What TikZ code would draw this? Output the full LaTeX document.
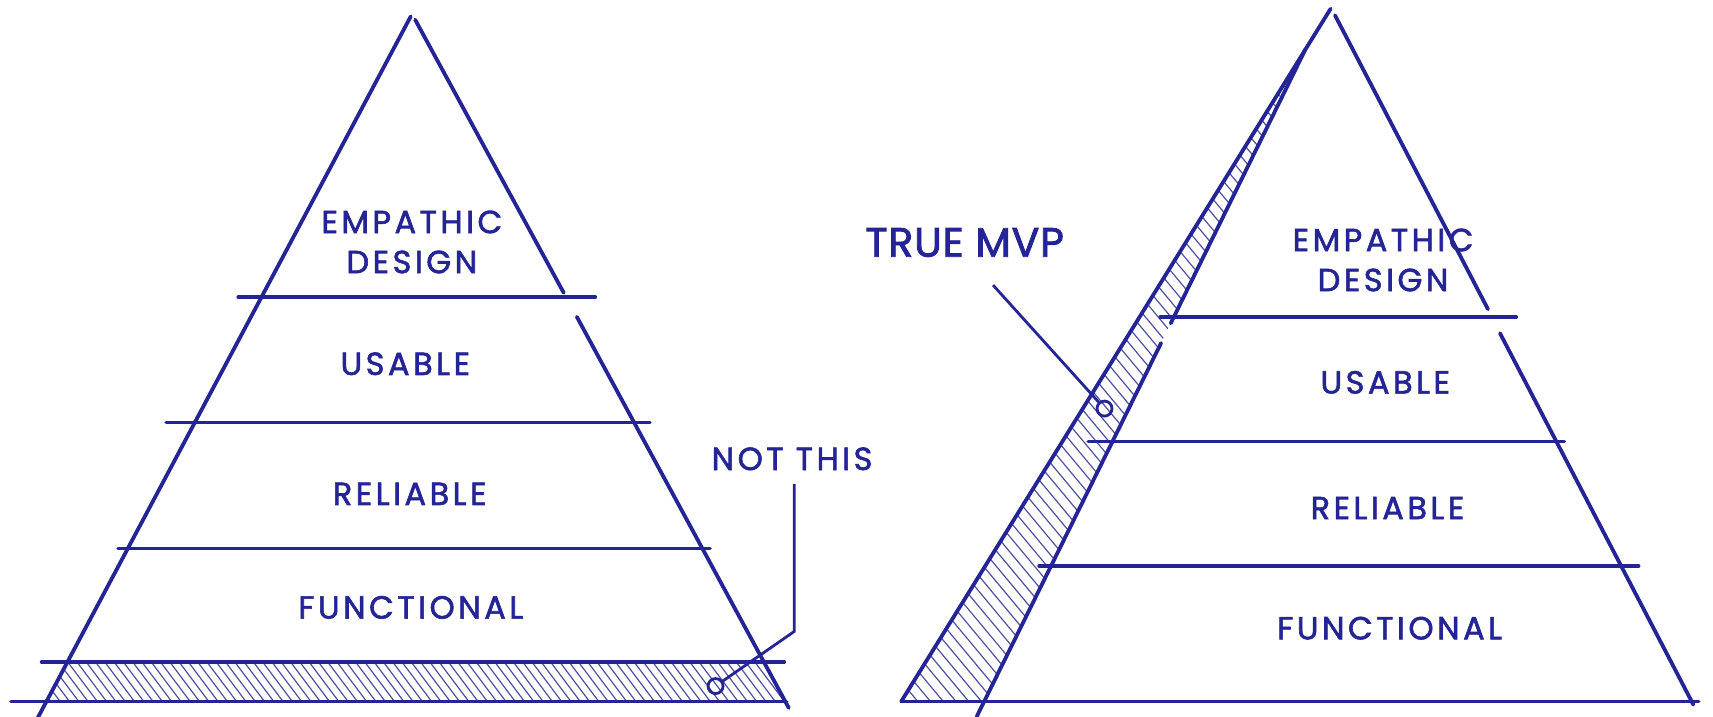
\documentclass[tikz,border=0pt]{standalone}
\usepackage{fontspec}
\setmainfont{Poppins}[LetterSpace=11, FakeBold=1.8]
\newfontfamily\bigfont{Poppins}[LetterSpace=2, FakeBold=2]
\definecolor{ink}{RGB}{36,36,150}
\definecolor{hatchc}{RGB}{80,80,165}
\tikzset{
 side/.style={draw=ink, line width=3.8pt, line cap=round},
 layer/.style={draw=ink, line width=3.4pt, line cap=round},
 hatchline/.style={draw=hatchc, line width=1.2pt},
 lbl/.style={text=ink, font=\fontsize{32}{40}\selectfont, inner sep=0pt, align=center},
 bigl/.style={text=ink, font=\bigfont\fontsize{41}{48}\selectfont, inner sep=0pt},
 leader/.style={draw=ink, line width=2.8pt},
 ring/.style={circle, draw=ink, line width=2.8pt, minimum size=15pt, inner sep=0pt},
}
\begin{document}
\begin{tikzpicture}[x=1.0925pt,y=-1.0925pt]
\useasboundingbox (0,0) rectangle (1568,656);
\fill[white] (0,0) rectangle (1568,656);

% ---------- left pyramid ----------
\begin{scope}
\clip (61.6,606) -- (698,606) -- (717.5,642) -- (42.5,642) -- cycle;
\foreach \x in {-40,-31.5,...,740} \draw[hatchline] (\x,606) -- (\x+27,642);
\end{scope}
\draw[side] (376,15) -- (33,660);
\draw[side] (380,18) -- (516,268);
\draw[side] (528,290) -- (722,648);
\draw[layer] (218,272) -- (545,272);
\draw[layer] (152,387) -- (595,387);
\draw[layer] (108,502) -- (650,502);
\draw[layer] (38,606) -- (718,606);
\draw[layer] (10,642) -- (720,642);

\node[lbl] (l1) at (377,221.5) {EMPATHIC\\DESIGN};
\node[lbl] (l2) at (371,333) {USABLE};
\node[lbl] (l3) at (375,452) {RELIABLE};
\node[lbl] (l4) at (376,556) {FUNCTIONAL};

\node[lbl] (nt) at (725,420) {NOT THIS};
\coordinate (nt1) at (727,443);
\coordinate (nt2) at (727,578);
\node[ring] (r1) at (655,628) {};
\draw[leader] (nt1) -- (nt2) -- (r1);

% ---------- right pyramid ----------
\begin{scope}
\clip (1195,45) -- (825,642) -- (901,642) -- cycle;
\foreach \y in {-400,-386,...,700} \draw[hatchline] (800,\y) -- (1250,\y+540);
\end{scope}
\draw[side] (1218,8) -- (825,642);
\draw[side] (1195,45) -- (1071.6,296);
\draw[side] (1062.8,314) -- (894,656);
\draw[side] (1222,14) -- (1362,283);
\draw[side] (1373,305) -- (1550,645);
\draw[layer] (1062,290) -- (1388,290);
\draw[layer] (996,404) -- (1432,404);
\draw[layer] (951,518) -- (1500,518);
\draw[layer] (825,642) -- (1555,642);

\node[lbl] (r1a) at (1266,238) {EMPATHIC\\DESIGN};
\node[lbl] (r2) at (1268,350) {USABLE};
\node[lbl] (r3) at (1270,465) {RELIABLE};
\node[lbl] (r4) at (1272,575) {FUNCTIONAL};

\node[bigl] (tm) at (883,222) {TRUE MVP};
\coordinate (tm1) at (909,261);
\node[ring] (rr) at (1011,374) {};
\draw[leader] (tm1) -- (rr);
\end{tikzpicture}
\end{document}
